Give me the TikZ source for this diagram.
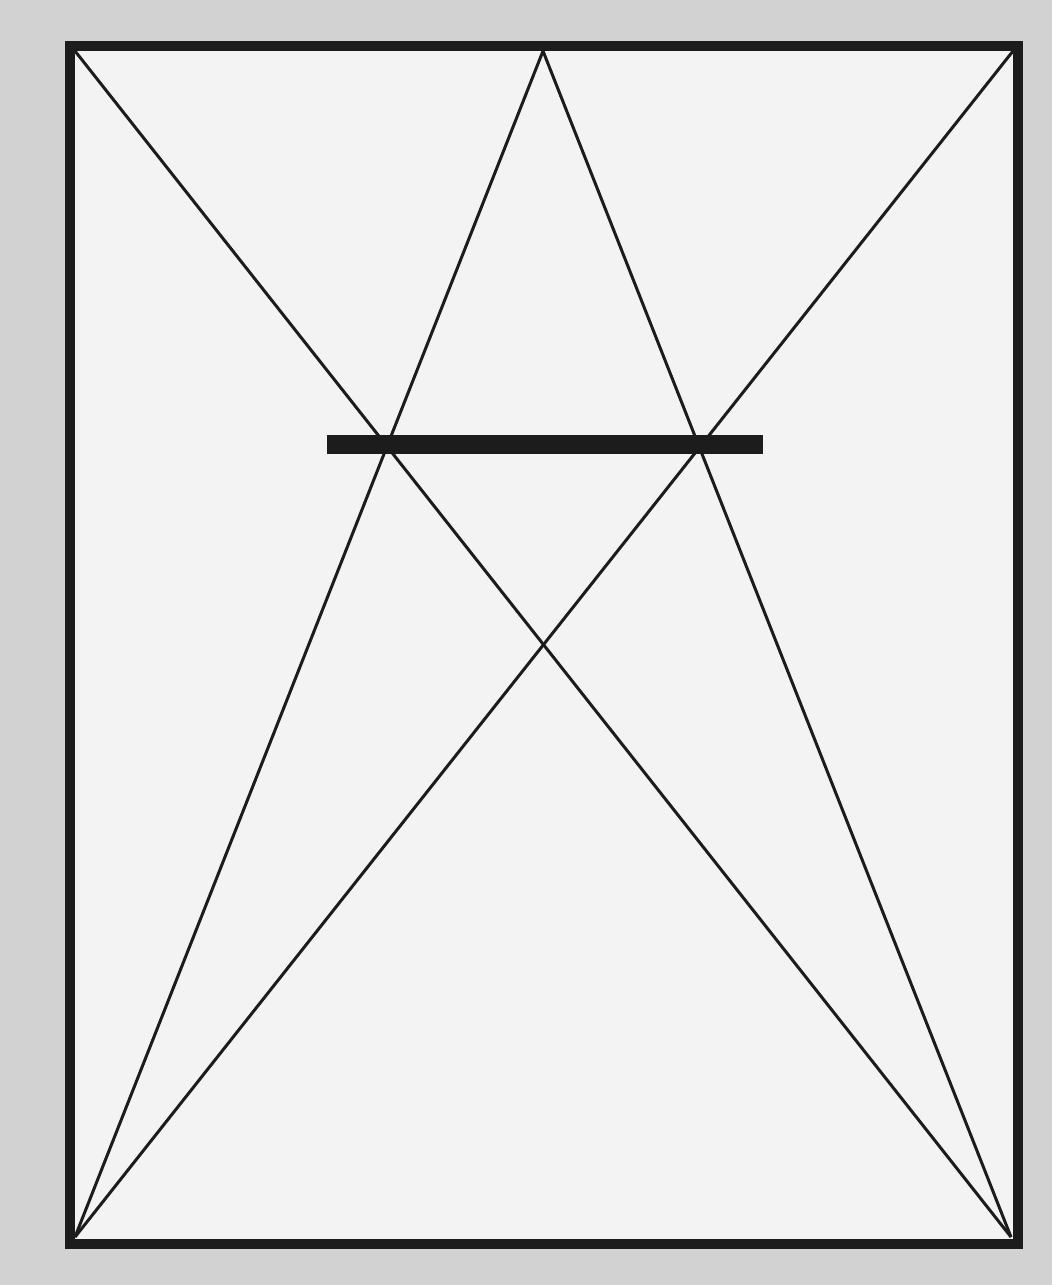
\documentclass[tikz,border=0pt]{standalone}
\usetikzlibrary{calc}
\definecolor{outerbg}{HTML}{D2D2D2}
\definecolor{innerbg}{HTML}{F3F3F3}
\definecolor{ink}{HTML}{1C1C1C}
\tikzset{
  frame/.style={draw=ink, line width=10pt, fill=innerbg},
  thin/.style={draw=ink, line width=3pt},
  bar/.style={fill=ink, draw=none}
}
\begin{document}
\begin{tikzpicture}[x=1pt,y=-1pt]
\fill[outerbg] (0,0) rectangle (1052,1285);
\useasboundingbox (0,0) rectangle (1052,1285);
\draw[frame] (70,46) rectangle (1018,1244);
\coordinate (tl) at (75,51);
\coordinate (tr) at (1013,51);
\coordinate (bl) at (75,1237);
\coordinate (br) at (1011,1237);
\coordinate (apex) at (543,51);
\begin{scope}
\clip (75,51) rectangle (1013,1239);
\draw[thin] (tl) -- (br);
\draw[thin] (tr) -- (bl);
\draw[thin] (bl) -- (apex);
\draw[thin] (br) -- (apex);
\end{scope}
\fill[bar] (327,435) rectangle (763,454);
\end{tikzpicture}
\end{document}
